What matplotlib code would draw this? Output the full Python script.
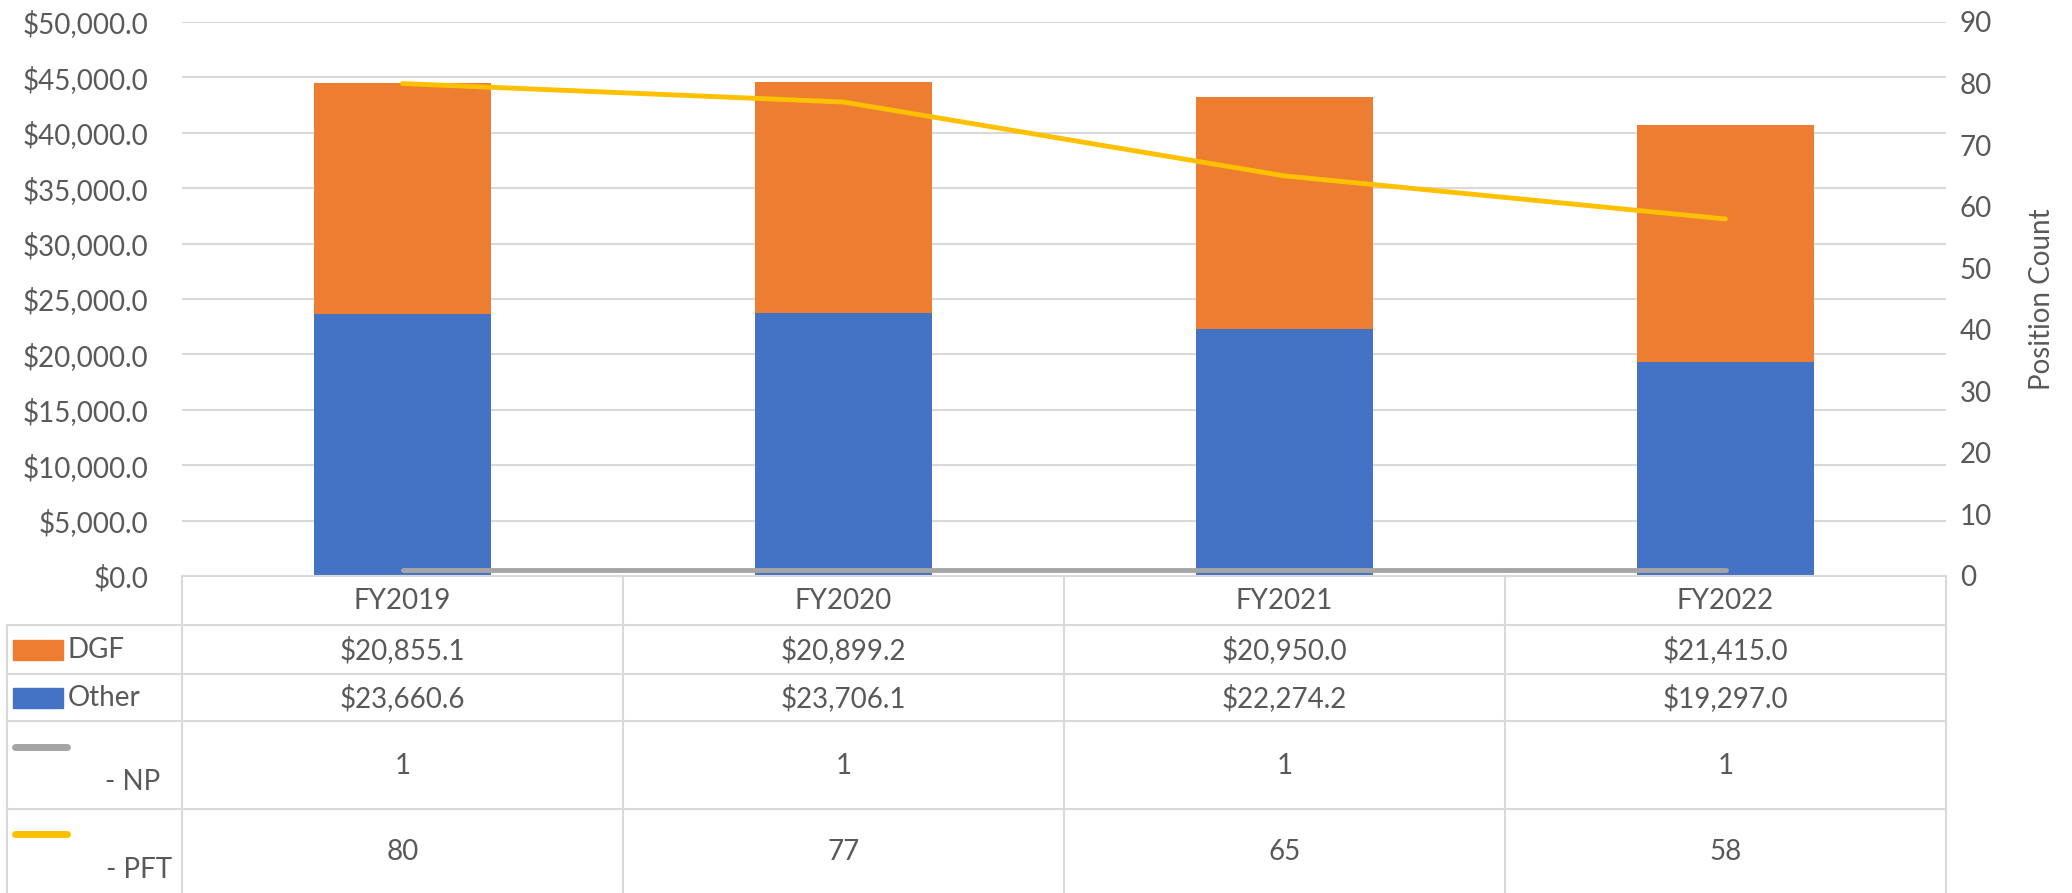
import matplotlib.pyplot as plt
import matplotlib.ticker as mticker
from matplotlib.lines import Line2D
from matplotlib.patches import Rectangle

plt.rcParams['font.family'] = ['Lato', 'DejaVu Sans']

# data
years = ['FY2019', 'FY2020', 'FY2021', 'FY2022']
dgf = [20855.1, 20899.2, 20950.0, 21415.0]
other = [23660.6, 23706.1, 22274.2, 19297.0]
np_count = [1, 1, 1, 1]
pft_count = [80, 77, 65, 58]

c_blue = '#4472C4'
c_orange = '#ED7D31'
c_gray = '#A5A5A5'
c_yellow = '#FFC000'
c_text = '#595959'
c_grid = '#D9D9D9'

W, H = 2072, 893
fig = plt.figure(figsize=(W / 100, H / 100), dpi=100)

# pixel helpers
def fx(px):
    return px / W

def fy(py):
    return 1 - py / H

left, right, top, bottom = 182, 1946, 22, 576
ax = fig.add_axes([fx(left), fy(bottom), fx(right - left), (bottom - top) / H])
ax2 = ax.twinx()

x = list(range(len(years)))
ax.bar(x, other, width=0.4, color=c_blue, zorder=2)
ax.bar(x, dgf, width=0.4, bottom=other, color=c_orange, zorder=2)

ax.set_xlim(-0.5, len(years) - 0.5)
ax.set_ylim(0, 50000)
ax.set_yticks(range(0, 50001, 5000))
ax.yaxis.set_major_formatter(mticker.FuncFormatter(lambda v, p: '${:,.1f}'.format(v)))
ax.grid(axis='y', color=c_grid, linewidth=1.5, zorder=0)
ax.set_axisbelow(True)
ax.set_xticks([])
ax.tick_params(axis='y', length=0, labelsize=20, labelcolor=c_text, pad=24)

ax2.plot(x, np_count, color=c_gray, linewidth=3.5, solid_capstyle='round', zorder=3)
ax2.plot(x, pft_count, color=c_yellow, linewidth=3.5, solid_capstyle='round', zorder=3)
ax2.set_ylim(0, 90)
ax2.set_yticks(range(0, 91, 10))
ax2.tick_params(axis='y', length=0, labelsize=20, labelcolor=c_text, pad=10)

for a in (ax, ax2):
    for s in a.spines.values():
        s.set_visible(False)

fig.text(fx(2042), fy(top + (bottom - top) / 2), 'Position Count', rotation=90,
         ha='center', va='center', fontsize=20, color=c_text)

# data table
col_x = [182, 623, 1064, 1505, 1946]
row_y = [576, 625, 674, 721, 809]
lc = c_grid
lw = 1.5
fig.add_artist(Line2D([fx(182), fx(1946)], [fy(576), fy(576)], color=lc, lw=lw))
for yy in row_y[1:]:
    fig.add_artist(Line2D([fx(7), fx(1946)], [fy(yy), fy(yy)], color=lc, lw=lw))
for xx in col_x:
    fig.add_artist(Line2D([fx(xx), fx(xx)], [fy(576), fy(893)], color=lc, lw=lw))
fig.add_artist(Line2D([fx(7), fx(7)], [fy(625), fy(893)], color=lc, lw=lw))

centers = [(col_x[i] + col_x[i + 1]) / 2 for i in range(len(years))]
row_text = [
    years,
    ['${:,.1f}'.format(v) for v in dgf],
    ['${:,.1f}'.format(v) for v in other],
    [str(v) for v in np_count],
    [str(v) for v in pft_count],
]
row_mid = [601, 650, 698, 766, 852]
for texts, ym in zip(row_text, row_mid):
    for cx, t in zip(centers, texts):
        fig.text(fx(cx), fy(ym), t, ha='center', va='center', fontsize=20, color=c_text)

# legend keys in the table
fig.add_artist(Rectangle((fx(13), fy(660)), fx(50), 20 / H, color=c_orange))
fig.text(fx(68), fy(650), 'DGF', ha='left', va='center', fontsize=20, color=c_text)
fig.add_artist(Rectangle((fx(13), fy(708)), fx(50), 20 / H, color=c_blue))
fig.text(fx(68), fy(698), 'Other', ha='left', va='center', fontsize=20, color=c_text)
fig.add_artist(Line2D([fx(15), fx(67)], [fy(747), fy(747)], color=c_gray, lw=5,
                      solid_capstyle='round'))
fig.text(fx(160), fy(782), '- NP', ha='right', va='center', fontsize=20, color=c_text)
fig.add_artist(Line2D([fx(15), fx(67)], [fy(834), fy(834)], color=c_yellow, lw=5,
                      solid_capstyle='round'))
fig.text(fx(172), fy(870), '- PFT', ha='right', va='center', fontsize=20, color=c_text)

fig.savefig('out.png', dpi=100)
